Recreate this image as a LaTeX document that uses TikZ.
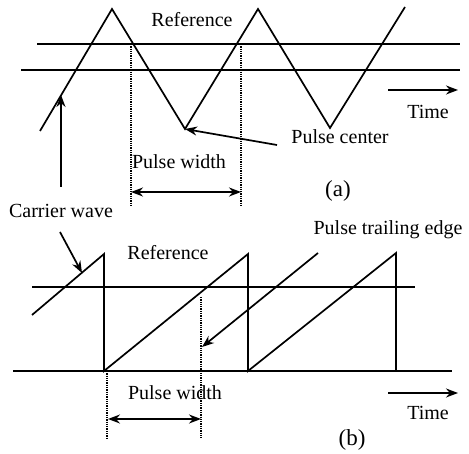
\documentclass[tikz,border=0pt]{standalone}
\usepackage{fontspec}
\setmainfont{Liberation Serif}
\usetikzlibrary{arrows.meta,positioning}

\begin{document}
\begin{tikzpicture}[x=1pt,y=-1pt,line width=1.7pt,
  lbl/.style={font=\fontsize{20}{22}\selectfont,inner sep=1pt},
  tag/.style={font=\fontsize{23}{25}\selectfont,inner sep=1pt},
  ptr/.style={-{Stealth[length=12pt,width=9pt]}},
  span/.style={{Stealth[length=12pt,width=9pt]}-{Stealth[length=12pt,width=9pt]}},
  guide/.style={densely dotted,line width=1.3pt}]
  \useasboundingbox (0,0) rectangle (469,454);

  % (a) triangle carrier and two reference levels
  \draw (40,131) -- (112,9) -- (185,129) coordinate (trough) -- (258,9) -- (330,128) -- (405,7);
  \draw (37,44) -- (460,44);
  \draw (21,70) -- (460,70);
  \foreach \x in {131,241}{
    \draw[guide] (\x,44) -- (\x,207);
  }
  \coordinate (pwaL) at (131,192);
  \coordinate (pwaR) at (241,192);
  \draw[span] (pwaL) -- (pwaR);

  \node[lbl] (refa) at (192,20) {Reference};
  \node[lbl] (pca) at (340,137) {Pulse center};
  \node[lbl] (pwa) at (179,162) {Pulse width};
  \node[lbl] (cwa) at (61,211) {Carrier wave};
  \node[tag] (taga) at (338,191) {(a)};
  \node[lbl] (timea) at (428,112) {Time};
  \coordinate (tA0) at (388,90);
  \coordinate (tA1) at (458,90);
  \draw[ptr] (tA0) -- (tA1);
  \coordinate (cwA0) at (61,187);
  \coordinate (cwA1) at (61,95);
  \draw[ptr] (cwA0) -- (cwA1);
  \coordinate (pcA0) at (277,145);
  \draw[ptr] (pcA0) -- (trough);

  % (b) sawtooth carrier and one reference level
  \draw (32,315) -- (104,254) -- (104,371) -- (248,254) -- (248,371) -- (396,253) -- (396,371);
  \draw (32,287) -- (415,287);
  \draw (13,371) -- (452,371);
  \draw[guide] (107,371) -- (107,438);
  \draw[guide] (201,297) -- (201,438);
  \coordinate (pwbL) at (108,419);
  \coordinate (pwbR) at (201,419);
  \draw[span] (pwbL) -- (pwbR);

  \node[lbl] (refb) at (168,253) {Reference};
  \node[lbl] (pte) at (388,230) {Pulse trailing edge};
  \node[lbl] (pwb) at (175,393) {Pulse width};
  \node[tag] (tagb) at (352,440) {(b)};
  \node[lbl] (timeb) at (428,413) {Time};
  \coordinate (tB0) at (388,393);
  \coordinate (tB1) at (458,393);
  \draw[ptr] (tB0) -- (tB1);
  \coordinate (cwB0) at (60,232);
  \coordinate (cwB1) at (82,273);
  \draw[ptr] (cwB0) -- (cwB1);
  \coordinate (pteB0) at (318,253);
  \coordinate (pteB1) at (202,347);
  \draw[ptr] (pteB0) -- (pteB1);
\end{tikzpicture}
\end{document}
